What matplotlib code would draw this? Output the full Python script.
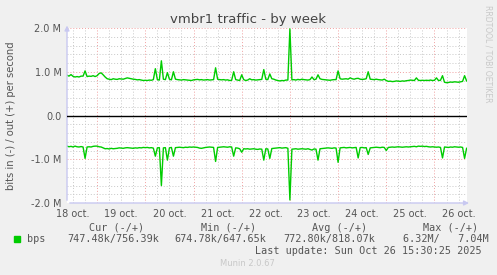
import numpy as np
import matplotlib
matplotlib.use("Agg")
import matplotlib.pyplot as plt
from matplotlib.patches import Rectangle

# hourly samples, hour 0 = 19 oct 00:00, first sample = 18 oct 09:00
start_hour = -15
# out (+) traffic in kbit/s, one row per day
out_k = [
    # 18 oct (09h-23h)
    920, 900, 935, 895, 880, 890, 880, 900, 900, 1020, 890, 900, 895, 910, 890,
    # 19 oct
    910, 960, 975, 930, 880, 840, 830, 820, 840, 830, 825, 840,
    835, 830, 845, 860, 850, 840, 830, 825, 815, 820, 810, 800,
    # 20 oct
    805, 800, 810, 805, 820, 1070, 820, 810, 1250, 830, 820, 980,
    830, 815, 1000, 830, 820, 815, 810, 820, 815, 810, 805, 800,
    # 21 oct
    815, 820, 825, 815, 820, 810, 815, 820, 810, 815, 820, 1090,
    830, 820, 815, 820, 810, 815, 800, 805, 1000, 820, 810, 800,
    # 22 oct
    930, 820, 800, 810, 840, 815, 820, 810, 815, 820, 825, 1050,
    830, 820, 950, 840, 830, 810, 800, 790, 800, 795, 810, 810,
    # 23 oct
    1980, 815, 820, 810, 825, 815, 830, 820, 815, 810, 820, 880,
    820, 830, 930, 840, 825, 820, 815, 810, 805, 815, 820, 820,
    # 24 oct
    1020, 840, 830, 835, 840, 830, 860, 840, 830, 845, 850, 830,
    825, 830, 840, 1000, 830, 825, 820, 830, 820, 815, 810, 830,
    # 25 oct
    800, 780, 785, 775, 780, 790, 785, 780, 790, 785, 795, 800,
    810, 805, 800, 860, 805, 800, 805, 800, 805, 800, 810, 800,
    # 26 oct (00h-16h)
    805, 860, 800, 805, 910, 760, 750, 755, 765, 760, 770, 765,
    760, 770, 780, 910, 790,
]
# in (-) traffic in kbit/s
in_k = [
    # 18 oct
    700, 715, 705, 720, 700, 715, 720, 710, 720, 980, 720, 715, 720, 705, 700,
    # 19 oct
    700, 715, 720, 740, 760, 755, 765, 750, 760, 755, 750, 740,
    745, 750, 740, 735, 740, 745, 750, 740, 745, 735, 740, 730,
    # 20 oct
    735, 730, 740, 735, 745, 930, 740, 735, 1600, 740, 735, 1020,
    740, 730, 930, 735, 730, 725, 730, 735, 725, 730, 720, 725,
    # 21 oct
    720, 725, 730, 745, 750, 740, 730, 725, 720, 725, 730, 1050,
    730, 725, 720, 715, 720, 725, 715, 720, 930, 740, 745, 760,
    # 22 oct
    840, 760, 765, 760, 770, 765, 760, 770, 775, 765, 770, 1020,
    760, 765, 980, 755, 750, 745, 740, 735, 745, 740, 735, 750,
    # 23 oct
    1930, 770, 765, 760, 770, 765, 760, 765, 770, 760, 775, 790,
    765, 770, 1020, 760, 755, 750, 745, 740, 745, 750, 740, 745,
    # 24 oct
    1070, 740, 735, 730, 740, 735, 730, 740, 735, 730, 970, 735,
    730, 740, 735, 890, 740, 735, 730, 725, 730, 735, 725, 730,
    # 25 oct
    800, 730, 725, 720, 725, 720, 715, 720, 725, 720, 715, 720,
    715, 710, 705, 715, 700, 705, 700, 710, 705, 715, 720, 715,
    # 26 oct
    720, 725, 720, 730, 970, 720, 725, 730, 720, 725, 715, 720,
    725, 720, 730, 980, 750,
]
day_labels = ["18 oct.", "19 oct.", "20 oct.", "21 oct.", "22 oct.",
              "23 oct.", "24 oct.", "25 oct.", "26 oct."]
y_ticks = [-2e6, -1e6, 0, 1e6, 2e6]
y_tick_labels = ["-2.0 M", "-1.0 M", "0.0", "1.0 M", "2.0 M"]

legend_head = ["Cur (-/+)", "Min (-/+)", "Avg (-/+)", "Max (-/+)"]
legend_vals = ["747.48k/756.39k", "674.78k/647.65k", "772.80k/818.07k", "6.32M/   7.04M"]

W, H = 497, 275
fig = plt.figure(figsize=(W / 100, H / 100), dpi=100, facecolor="#f0f0f0")
ax = fig.add_axes([67 / W, 1 - 203 / H, 400 / W, 175 / H])
ax.set_facecolor("white")

hours = start_hour + np.arange(len(out_k))
ax.plot(hours, np.array(out_k) * 1000, color="#00cc00", lw=1.0, zorder=3)
ax.plot(hours, -np.array(in_k) * 1000, color="#00cc00", lw=1.0, zorder=3)
ax.axhline(0, color="black", lw=1.0, zorder=4)

x0, x1 = start_hour, start_hour + 400 / 2.008
ax.set_xlim(x0, x1)
ax.set_ylim(-2e6, 2e6)

dot = (0, (1, 2))
for h in np.arange(-12, x1, 6):
    if h % 24 == 0:
        ax.axvline(h, color="#f0a0a0", lw=0.7, ls=dot, zorder=1)
    else:
        ax.axvline(h, color="#c8c8c8", lw=0.7, ls=dot, zorder=1)
for v in np.arange(-2e6, 2.01e6, 2e5):
    if abs(v) < 1:
        continue
    if abs(v) % 1e6 < 1:
        ax.axhline(v, color="#f0a0a0", lw=0.7, ls=dot, zorder=1)
    else:
        ax.axhline(v, color="#c8c8c8", lw=0.7, ls=dot, zorder=1)

for s in ax.spines.values():
    s.set_visible(False)
ax.set_xticks([-12 + 24 * i for i in range(len(day_labels))])
ax.set_xticklabels(day_labels, fontsize=7, color="#555555")
ax.set_yticks(y_ticks)
ax.set_yticklabels(y_tick_labels, fontsize=7, color="#555555")
ax.tick_params(length=0, pad=4)

# axis arrows
ax.annotate("", xy=(1.012, 0), xytext=(0, 0), xycoords="axes fraction",
            arrowprops=dict(arrowstyle="-|>", color="#c8c8f0", lw=1, mutation_scale=7),
            annotation_clip=False)
ax.annotate("", xy=(0, 1.03), xytext=(0, 0), xycoords="axes fraction",
            arrowprops=dict(arrowstyle="-|>", color="#c8c8f0", lw=1, mutation_scale=7),
            annotation_clip=False)


def ftext(x, y, s, **kw):
    fig.text(x / W, 1 - y / H, s, **kw)


ftext(248, 20, "vmbr1 traffic - by week", fontsize=9.5, color="#444444",
      ha="center", va="center")
ftext(11, 116, "bits in (-) / out (+) per second", fontsize=7.2, color="#555555",
      rotation=90, ha="center", va="center")
ftext(488, 5, "RRDTOOL / TOBI OETIKER", fontsize=5.5, color="#c8c8c8",
      rotation=270, ha="center", va="top")

mono = dict(family="DejaVu Sans Mono", fontsize=7.3, color="#555555", va="center")
for x, s in zip([89, 201, 312, 423], legend_head):
    ftext(x, 228, s, **mono)
ftext(27, 239, "bps", **mono)
for x, s in zip([67, 174, 283, 403], legend_vals):
    ftext(x, 239, s, **mono)
ftext(482, 251, "Last update: Sun Oct 26 15:30:25 2025", ha="right",
      **{k: v for k, v in mono.items()})
fig.patches.append(Rectangle((14 / W, 1 - 242 / H), 6 / W, 6 / H,
                             transform=fig.transFigure, color="#00cc00"))
ftext(247, 264, "Munin 2.0.67", family="DejaVu Sans", fontsize=6,
      color="#c8c8c8", ha="center", va="center")

fig.savefig("out.png", dpi=100, facecolor=fig.get_facecolor())
